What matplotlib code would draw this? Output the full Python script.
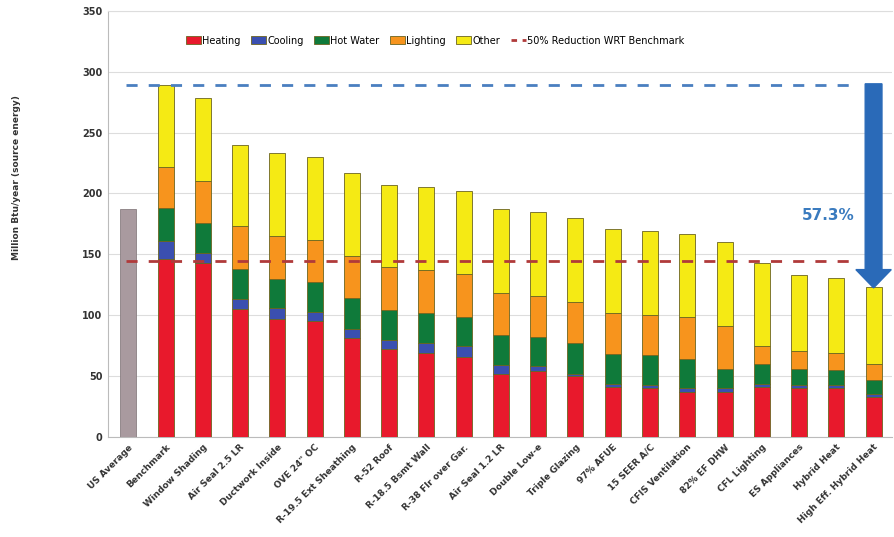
import numpy as np
import matplotlib.pyplot as plt
from matplotlib.patches import Patch
from matplotlib.lines import Line2D

# energy use per measure, Million Btu/year (source energy)
labels = ["US Average", "Benchmark", "Window Shading", "Air Seal 2.5 LR", "Ductwork Inside",
          "OVE 24\" OC", "R-19.5 Ext Sheathing", "R-52 Roof", "R-18.5 Bsmt Wall",
          "R-38 Flr over Gar.", "Air Seal 1.2 LR", "Double Low-e", "Triple Glazing",
          "97% AFUE", "15 SEER A/C", "CFIS Ventilation", "82% EF DHW", "CFL Lighting",
          "ES Appliances", "Hybrid Heat", "High Eff. Hybrid Heat"]
us_average = 187

heating = [146, 143, 105, 97, 95, 81, 72, 69, 66, 52, 54, 50, 41, 40, 37, 37, 41, 40, 40, 33]
cooling = [15, 8, 8, 9, 8, 8, 8, 8, 9, 7, 4, 2, 3, 3, 3, 3, 3, 3, 3, 2]
hot_water = [27, 25, 25, 24, 24, 25, 24, 25, 24, 25, 24, 25, 24, 24, 24, 16, 16, 13, 12, 12]
lighting = [34, 34, 35, 35, 35, 35, 36, 35, 35, 34, 34, 34, 34, 33, 35, 35, 15, 15, 14, 13]
other = [67, 68, 67, 68, 68, 68, 67, 68, 68, 69, 69, 69, 69, 69, 68, 69, 68, 62, 62, 63.5]

series = [("Heating", heating, "#e8192c"),
          ("Cooling", cooling, "#3a4fb0"),
          ("Hot Water", hot_water, "#0f7a3a"),
          ("Lighting", lighting, "#f7941d"),
          ("Other", other, "#f5ea14")]

fig = plt.figure(figsize=(8.94, 5.37), dpi=100)
ax = fig.add_axes([0.121, 0.186, 0.877, 0.794])

x = np.arange(len(labels))
w = 0.43
edge = "#6b6420"

ax.bar(x[0], us_average, w, color="#a99a9f", edgecolor="#8a7f82", linewidth=0.6, zorder=3)

bottom = np.zeros(len(heating))
for name, vals, col in series:
    ax.bar(x[1:], vals, w, bottom=bottom, color=col, edgecolor=edge, linewidth=0.6, zorder=3)
    bottom += np.array(vals)

totals = bottom
bench = totals[0]
half = bench / 2

ax.plot([-0.05, 19.55], [bench, bench], color="#4a7fc0", lw=2, dashes=(4, 4), zorder=4)
ax.plot([-0.05, 19.55], [half, half], color="#b03a3a", lw=2, dashes=(4, 4), zorder=4)

# reduction arrow from benchmark down to last case
ax.arrow(x[-1], bench + 1, 0, totals[-1] - bench - 2, width=0.45, head_width=0.95,
         head_length=15, length_includes_head=True, color="#2a6ab8", zorder=5)
red_pct = (1 - totals[-1] / bench) * 100
ax.text(19.5, 182, f"{red_pct:.1f}%", color="#3a7bbf", fontsize=11, fontweight="bold",
        ha="right", va="center", zorder=5)

ax.set_xlim(-0.54, 20.5)
ax.set_ylim(0, 350)
ax.set_yticks(np.arange(0, 351, 50))
ax.yaxis.grid(True, color="#dddddd", lw=0.8, zorder=0)
ax.set_xticks(x)
ax.set_xticklabels(labels, rotation=45, ha="right", rotation_mode="anchor",
                   fontsize=6.5, fontweight="bold", color="#333333")
for lab in ax.get_yticklabels():
    lab.set_fontsize(7)
    lab.set_fontweight("bold")
    lab.set_color("#333333")
ax.tick_params(axis="both", length=0, pad=4)
ax.spines["right"].set_visible(False)
ax.spines["bottom"].set_color("#bbbbbb")
ax.spines["left"].set_color("#bbbbbb")
ax.spines["top"].set_color("#dddddd")

fig.text(0.018, 0.67, "Million Btu/year (source energy)", rotation=90, fontsize=6.5,
         fontweight="bold", color="#333333", ha="center", va="center")

handles = [Patch(facecolor=c, edgecolor=edge, linewidth=0.6, label=n) for n, _, c in series]
handles.append(Line2D([], [], color="#b03a3a", lw=2, dashes=(2, 2),
                      label="50% Reduction WRT Benchmark"))
ax.legend(handles=handles, loc="center", bbox_to_anchor=(0.417, 0.93), ncol=6,
          frameon=False, fontsize=7, handlelength=1.5, handletextpad=0.15,
          columnspacing=1.1, handleheight=0.8)

fig.savefig("out.png", dpi=100)
